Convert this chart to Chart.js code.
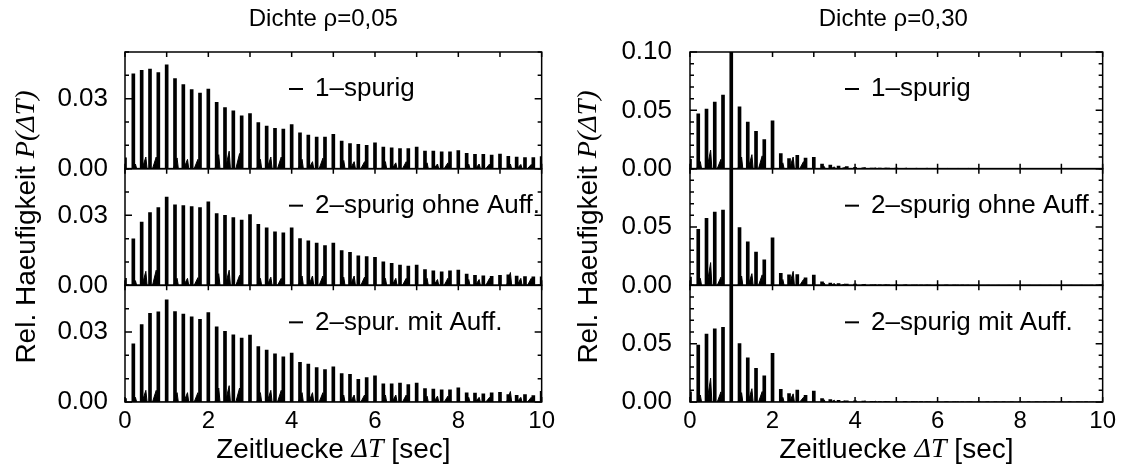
<!DOCTYPE html>
<html>
<head>
<meta charset="utf-8">
<script src="https://cdn.jsdelivr.net/npm/chart.js@4.4.1/dist/chart.umd.min.js"></script>
<style>
  html, body { margin: 0; padding: 0; background: #fff; }
  #wrap { position: relative; width: 1121px; height: 473px; }
  canvas { position: absolute; top: 0; }
  #left { left: 0; }
  #right { left: 560px; }
</style>
</head>
<body>
<div id="wrap">
  <canvas id="left" width="560" height="473"></canvas>
  <canvas id="right" width="561" height="473"></canvas>
</div>
<script>
// time gaps of the main spikes (sec)
const gapTimes = [0, 0.2, 0.4, 0.6, 0.8, 1, 1.2, 1.4, 1.6, 1.8, 2, 2.2, 2.4, 2.6, 2.8,
  3, 3.2, 3.4, 3.6, 3.8, 4, 4.2, 4.4, 4.6, 4.8, 5, 5.2, 5.4, 5.6, 5.8, 6, 6.2, 6.4, 6.6, 6.8,
  7, 7.2, 7.4, 7.6, 7.8, 8, 8.2, 8.4, 8.6, 8.8, 9, 9.2, 9.4, 9.6, 9.8, 10];
// small side peaks at quarter seconds
const bumpTimes = [0.25, 0.5, 0.75, 1.25, 1.5, 1.75, 2.25, 2.5, 2.75, 3.25, 3.5, 3.75,
  4.25, 4.5, 4.75, 5.25, 5.5, 5.75, 6.25, 6.5, 6.75, 7.25, 7.5, 7.75, 8.25, 8.5, 8.75,
  9.25, 9.5, 9.75];

const xTicks = [0, 2, 4, 6, 8, 10];
const yTicks05 = [0, 0.03];
const yTicks30 = [0, 0.05, 0.1];

const panelNames05 = ["1\u2013spurig", "2\u2013spurig ohne Auff.", "2\u2013spur. mit Auff."];
const panelNames30 = ["1\u2013spurig", "2\u2013spurig ohne Auff.", "2\u2013spurig mit Auff."];

// Dichte 0,05
const spikes05_1 = [
  0.0046, 0.0406, 0.0421, 0.0427, 0.0412,
  0.0445, 0.0386, 0.0360, 0.0339, 0.0324,
  0.0341, 0.0284, 0.0262, 0.0248, 0.0226,
  0.0236, 0.0197, 0.0183, 0.0173, 0.0170,
  0.0189, 0.0154, 0.0144, 0.0135, 0.0135,
  0.0147, 0.0118, 0.0107, 0.0104, 0.0100,
  0.0111, 0.0092, 0.0089, 0.0086, 0.0086,
  0.0092, 0.0075, 0.0075, 0.0072, 0.0072,
  0.0078, 0.0066, 0.0061, 0.0061, 0.0058,
  0.0063, 0.0053, 0.0050, 0.0048, 0.0048,
  0.0052];
const spikes05_2 = [
  0.0030, 0.0199, 0.0271, 0.0312, 0.0333,
  0.0378, 0.0345, 0.0342, 0.0338, 0.0333,
  0.0358, 0.0307, 0.0300, 0.0290, 0.0280,
  0.0303, 0.0261, 0.0246, 0.0229, 0.0225,
  0.0246, 0.0200, 0.0191, 0.0181, 0.0170,
  0.0181, 0.0149, 0.0141, 0.0126, 0.0123,
  0.0120, 0.0101, 0.0094, 0.0087, 0.0083,
  0.0087, 0.0068, 0.0062, 0.0058, 0.0062,
  0.0065, 0.0048, 0.0043, 0.0041, 0.0039,
  0.0043, 0.0045, 0.0040, 0.0038, 0.0036,
  0.0036];
const spikes05_3 = [
  0.0015, 0.0249, 0.0332, 0.0380, 0.0386,
  0.0438, 0.0387, 0.0377, 0.0365, 0.0354,
  0.0383, 0.0322, 0.0303, 0.0288, 0.0274,
  0.0287, 0.0238, 0.0223, 0.0206, 0.0194,
  0.0210, 0.0170, 0.0162, 0.0148, 0.0139,
  0.0151, 0.0122, 0.0119, 0.0097, 0.0105,
  0.0112, 0.0078, 0.0078, 0.0081, 0.0075,
  0.0081, 0.0058, 0.0055, 0.0052, 0.0052,
  0.0061, 0.0039, 0.0038, 0.0035, 0.0039,
  0.0041, 0.0032, 0.0029, 0.0032, 0.0028,
  0.0046];
const bumps05_1 = [0.0020, 0.0050, 0.0050, 0.0046, 0.0040, 0.0040, 0.0060, 0.0075, 0.0065,
  0.0040, 0.0050, 0.0050, 0.0040, 0.0030, 0.0045, 0.0035, 0.0030, 0.0030, 0.0030, 0.0025,
  0.0030, 0.0025, 0.0020, 0.0025, 0.0020, 0.0020, 0.0020, 0.0020, 0.0018, 0.0018];
const bumps05_2 = [0.0020, 0.0060, 0.0065, 0.0030, 0.0030, 0.0033, 0.0050, 0.0065, 0.0043,
  0.0030, 0.0035, 0.0030, 0.0040, 0.0040, 0.0040, 0.0035, 0.0040, 0.0035, 0.0030, 0.0030,
  0.0030, 0.0030, 0.0025, 0.0030, 0.0025, 0.0025, 0.0030, 0.0055, 0.0030, 0.0030];
const bumps05_3 = [0.0020, 0.0050, 0.0050, 0.0040, 0.0040, 0.0040, 0.0060, 0.0070, 0.0060,
  0.0040, 0.0050, 0.0050, 0.0040, 0.0040, 0.0040, 0.0030, 0.0030, 0.0030, 0.0030, 0.0030,
  0.0030, 0.0025, 0.0025, 0.0025, 0.0020, 0.0020, 0.0020, 0.0045, 0.0020, 0.0020];

// Dichte 0,30
const spikes30_1 = [
  0.0080, 0.0470, 0.0510, 0.0570, 0.0630,
  0.1600, 0.0530, 0.0400, 0.0320, 0.0250,
  0.0410, 0.0130, 0.0086, 0.0115, 0.0090,
  0.0098, 0.0040, 0.0030, 0.0023, 0.0017,
  0.0012, 0.0008, 0.0006, 0.0005, 0.0004,
  0.0004, 0.0003, 0.0003, 0.0003, 0.0002,
  0.0002, 0.0002, 0.0002, 0.0002, 0.0001,
  0.0001, 0.0001, 0.0001, 0.0001, 0.0001,
  0.0001, 0.0001, 0.0001, 0.0001, 0.0001,
  0.0001, 0.0001, 0.0001, 0.0001, 0.0001,
  0.0001];
const spikes30_2 = [
  0.0070, 0.0481, 0.0574, 0.0627, 0.0644,
  0.1600, 0.0496, 0.0373, 0.0286, 0.0219,
  0.0408, 0.0102, 0.0090, 0.0093, 0.0064,
  0.0087, 0.0030, 0.0020, 0.0015, 0.0010,
  0.0010, 0.0007, 0.0005, 0.0004, 0.0004,
  0.0004, 0.0003, 0.0003, 0.0003, 0.0002,
  0.0002, 0.0002, 0.0002, 0.0002, 0.0001,
  0.0001, 0.0001, 0.0001, 0.0001, 0.0001,
  0.0001, 0.0001, 0.0001, 0.0001, 0.0001,
  0.0001, 0.0001, 0.0001, 0.0001, 0.0001,
  0.0001];
const spikes30_3 = [
  0.0087, 0.0487, 0.0583, 0.0627, 0.0641,
  0.1600, 0.0501, 0.0379, 0.0289, 0.0224,
  0.0417, 0.0108, 0.0073, 0.0102, 0.0058,
  0.0093, 0.0030, 0.0020, 0.0015, 0.0010,
  0.0010, 0.0007, 0.0005, 0.0004, 0.0004,
  0.0004, 0.0003, 0.0003, 0.0003, 0.0002,
  0.0002, 0.0002, 0.0002, 0.0002, 0.0001,
  0.0001, 0.0001, 0.0001, 0.0001, 0.0001,
  0.0001, 0.0001, 0.0001, 0.0001, 0.0001,
  0.0001, 0.0001, 0.0001, 0.0001, 0.0001,
  0.0001];
const bumps30_1 = [0.0060, 0.0160, 0.0080, 0.0100, 0.0120, 0.0110, 0.0050, 0.0100, 0.0060,
  0.0020, 0.0015, 0.0010, 0.0008, 0.0006, 0.0005, 0.0004, 0.0003, 0.0003, 0.0002, 0.0002,
  0.0002, 0.0001, 0.0001, 0.0001, 0.0001, 0.0001, 0.0001, 0.0001, 0.0001, 0.0001];
const bumps30_2 = [0.0060, 0.0195, 0.0070, 0.0080, 0.0100, 0.0090, 0.0050, 0.0120, 0.0050,
  0.0020, 0.0015, 0.0010, 0.0008, 0.0006, 0.0005, 0.0004, 0.0003, 0.0003, 0.0002, 0.0002,
  0.0002, 0.0001, 0.0001, 0.0001, 0.0001, 0.0001, 0.0001, 0.0001, 0.0001, 0.0001];
const bumps30_3 = [0.0060, 0.0204, 0.0087, 0.0080, 0.0114, 0.0090, 0.0040, 0.0070, 0.0040,
  0.0020, 0.0015, 0.0010, 0.0008, 0.0006, 0.0005, 0.0004, 0.0003, 0.0003, 0.0002, 0.0002,
  0.0002, 0.0001, 0.0001, 0.0001, 0.0001, 0.0001, 0.0001, 0.0001, 0.0001, 0.0001];

const SANS = '"Liberation Sans", Arial, Helvetica, sans-serif';
const SERIF = '"Liberation Serif", "Times New Roman", serif';
Chart.defaults.font.family = SANS;
Chart.defaults.color = "#000";

// axis titles: sans text with the formula parts in italic serif
const yTitleParts = [["Rel. Haeufigkeit ", false], ["P(\u0394T)", true]];
const xTitleParts = [["Zeitluecke ", false], ["\u0394T", true], [" [sec]", false]];

const panelIds = ["yTop", "yMid", "yBot"];

function drawRich(ctx, parts, cx, cy, size) {
  const fontOf = (it) => (it ? "italic " + size + "px " + SERIF : size + "px " + SANS);
  let total = 0;
  parts.forEach(([t, it]) => { ctx.font = fontOf(it); total += ctx.measureText(t).width; });
  let x = cx - total / 2;
  ctx.textAlign = "left";
  ctx.textBaseline = "middle";
  parts.forEach(([t, it]) => {
    ctx.font = fontOf(it);
    ctx.fillText(t, x, cy);
    x += ctx.measureText(t).width;
  });
}

// frames, inward ticks, panel legends and titles
const framePlugin = {
  id: "frames",
  afterDatasetsDraw(chart, args, opts) {
    const ctx = chart.ctx;
    const x = chart.scales.x;
    ctx.save();
    ctx.strokeStyle = "#000";
    ctx.fillStyle = "#000";
    panelIds.forEach((id, i) => {
      const s = chart.scales[id];
      ctx.lineWidth = 1.5;
      ctx.strokeRect(x.left, s.top, x.right - x.left, s.bottom - s.top);
      ctx.beginPath();
      s.ticks.forEach((t) => {
        const py = s.getPixelForValue(t.value);
        const len = t.label ? 7 : 4;
        ctx.moveTo(x.left, py);
        ctx.lineTo(x.left + len, py);
        ctx.moveTo(x.right, py);
        ctx.lineTo(x.right - len, py);
      });
      x.ticks.forEach((t) => {
        const px = x.getPixelForValue(t.value);
        ctx.moveTo(px, s.top);
        ctx.lineTo(px, s.top + 5);
        ctx.moveTo(px, s.bottom);
        ctx.lineTo(px, s.bottom - 5);
      });
      ctx.stroke();

      const ly = s.top + 37;
      ctx.lineWidth = 2;
      ctx.beginPath();
      ctx.moveTo(x.left + opts.dashAt, ly);
      ctx.lineTo(x.left + opts.dashAt + 14, ly);
      ctx.stroke();
      ctx.font = "26px " + SANS;
      ctx.textBaseline = "middle";
      ctx.textAlign = "left";
      ctx.fillText(opts.names[i], x.left + opts.textAt, ly);
    });

    const midX = (x.left + x.right) / 2;
    ctx.font = "24px " + SANS;
    ctx.textAlign = "center";
    ctx.textBaseline = "middle";
    ctx.fillText(opts.title, midX + opts.titleShift, 19);

    drawRich(ctx, xTitleParts, midX, 450, 28);

    const mid = chart.scales.yMid;
    ctx.translate(opts.yTitleX, (mid.top + mid.bottom) / 2);
    ctx.rotate(-Math.PI / 2);
    drawRich(ctx, yTitleParts, 0, 0, 28);
    ctx.restore();
  },
};

function buildChart(canvasId, o) {
  const datasets = [];
  o.spikes.forEach((vals, i) => {
    datasets.push({
      type: "bar",
      data: gapTimes.map((t, k) => ({ x: t, y: vals[k] })),
      yAxisID: panelIds[i],
      backgroundColor: "#000",
      borderWidth: 0,
      barThickness: 3,
      grouped: false,
    });
    datasets.push({
      type: "line",
      data: bumpTimes.flatMap((t, k) => [
        { x: t - 0.09, y: 0 },
        { x: t, y: o.bumps[i][k] },
        { x: t + 0.03, y: 0 },
      ]),
      yAxisID: panelIds[i],
      borderColor: "#000",
      backgroundColor: "#000",
      borderWidth: 1,
      fill: "origin",
      pointRadius: 0,
      tension: 0,
    });
  });

  const yScale = (id) => ({
    type: "linear",
    position: "left",
    stack: "panels",
    stackWeight: 1,
    min: 0,
    max: o.yMax,
    grid: { display: false, drawTicks: false },
    border: { display: false },
    ticks: {
      stepSize: 0.01,
      autoSkip: false,
      padding: o.tickPad,
      font: { size: 26 },
      callback: function (v) {
        if (id !== "yTop" && Math.abs(v - o.yMax) < 1e-9) return "";
        return o.yLabels.some((l) => Math.abs(l - v) < 1e-9) ? v.toFixed(2) : "";
      },
    },
    afterFit: (s) => { s.width = o.axisWidth; },
  });

  return new Chart(document.getElementById(canvasId), {
    type: "bar",
    data: { datasets },
    options: {
      responsive: false,
      animation: false,
      events: [],
      devicePixelRatio: 1,
      layout: { padding: { left: 0, right: o.padRight, top: 52, bottom: 0 } },
      scales: {
        x: {
          type: "linear",
          position: "bottom",
          min: 0,
          max: 10,
          offset: false,
          grid: { display: false, drawTicks: false },
          border: { display: false },
          ticks: {
            stepSize: 1,
            autoSkip: false,
            maxRotation: 0,
            padding: 5,
            font: { size: 24 },
            callback: (v) => (xTicks.includes(v) ? String(v) : ""),
          },
          afterFit: (s) => { s.height = 71; },
        },
        yBot: yScale("yBot"),
        yMid: yScale("yMid"),
        yTop: yScale("yTop"),
      },
      plugins: {
        legend: { display: false },
        tooltip: { enabled: false },
        title: { display: false },
        frames: {
          names: o.names,
          dashAt: o.dashAt,
          textAt: o.textAt,
          title: o.title,
          titleShift: o.titleShift,
          yTitleX: o.yTitleX,
        },
      },
    },
    plugins: [framePlugin],
  });
}

buildChart("left", {
  title: "Dichte \u03c1=0,05",
  spikes: [spikes05_1, spikes05_2, spikes05_3],
  bumps: [bumps05_1, bumps05_2, bumps05_3],
  names: panelNames05,
  yMax: 0.05,
  yLabels: yTicks05,
  axisWidth: 125,
  tickPad: 17,
  padRight: 18,
  dashAt: 164,
  textAt: 190,
  titleShift: -10,
  yTitleX: 27,
});

buildChart("right", {
  title: "Dichte \u03c1=0,30",
  spikes: [spikes30_1, spikes30_2, spikes30_3],
  bumps: [bumps30_1, bumps30_2, bumps30_3],
  names: panelNames30,
  yMax: 0.1,
  yLabels: yTicks30,
  axisWidth: 130,
  tickPad: 18,
  padRight: 15,
  dashAt: 155,
  textAt: 181,
  titleShift: -3,
  yTitleX: 29,
});
</script>
</body>
</html>
